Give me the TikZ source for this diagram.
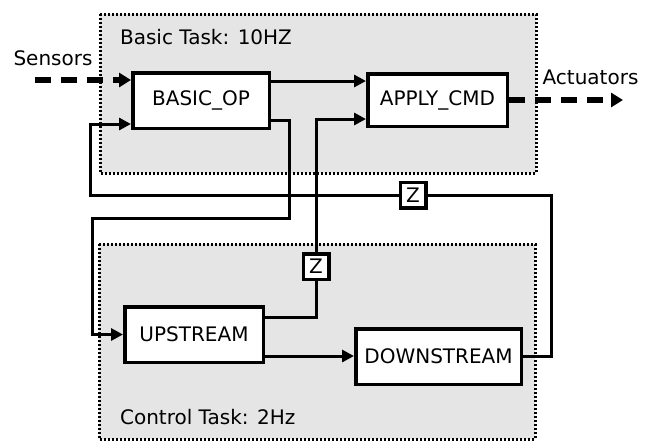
\documentclass[tikz,border=0pt]{standalone}
\usepackage{fontspec}
\setmainfont{DejaVu Sans}
\usetikzlibrary{arrows.meta}

\tikzset{
  block/.style={draw=black, fill=white, line width=1.75pt, inner sep=0pt},
  delay/.style={block, minimum width=12.75pt, minimum height=12.75pt},
  wire/.style={line width=1.5pt, -{Triangle[length=6pt,width=6pt]}},
  plain/.style={line width=1.5pt},
  io/.style={line width=3pt, dash pattern=on 8pt off 5pt, -{Triangle[length=6pt,width=7pt]}},
  task/.style={draw=black, fill=black!10, line width=1.5pt, dash pattern=on 1pt off 1pt},
}

\begin{document}
\begin{tikzpicture}[x=0.5pt, y=-0.5pt, font=\fontsize{10}{12}\selectfont]
\useasboundingbox (0,0) rectangle (651,441);
% task areas
\draw [task] (100,14) rectangle (536,173);
\draw [task] (99,244) rectangle (535,439);
\node [anchor=west] (basictask) at (113,37) {Basic Task: 10HZ};
\node [anchor=west] (ctrltask) at (113,417) {Control Task: 2Hz};
% blocks
\node [block, minimum width=68.25pt, minimum height=27.75pt] (basic) at (201,100.5) {BASIC\_OP};
\node [block, minimum width=69.75pt, minimum height=26.25pt] (apply) at (437.5,100) {APPLY\_CMD};
\node [block, minimum width=69.25pt, minimum height=27.75pt] (up) at (194,334.5) {UPSTREAM};
\node [block, minimum width=82.75pt, minimum height=27.75pt] (down) at (438.5,356.5) {DOWNSTREAM};
\node [delay] (z1) at (413,195) {Z};
\node [delay] (z2) at (316,266.5) {Z};
% inputs and outputs
\node (sensors) at (53,58) {Sensors};
\node (actuators) at (590.5,77) {Actuators};
\coordinate (sensorsin) at (35,80);
\coordinate (actout) at (623,100);
\draw [io] (sensorsin) -- ([yshift=10.25pt]basic.west);
\draw [io] (apply.east) -- (actout);
% connections
\draw [wire] ([yshift=9.75pt]basic.east) -- ([yshift=9.75pt]basic.east -| apply.west);
\draw [wire] ([yshift=-9.75pt]basic.east) -| (289,218) -- (92,218) |- (up.west);
\draw [wire] ([yshift=-10.75pt]up.east) -- ([yshift=-10.75pt]up.east -| down.west);
\draw [plain] ([yshift=8.75pt]up.east) -| (z2.south);
\draw [wire] (z2.north) |- ([yshift=-9.5pt]apply.west);
\draw [plain] (down.east) -| (551,195) -- (z1.east);
\draw [wire] (z1.west) -- (90,195) |- ([yshift=-11.75pt]basic.west);
\end{tikzpicture}
\end{document}
